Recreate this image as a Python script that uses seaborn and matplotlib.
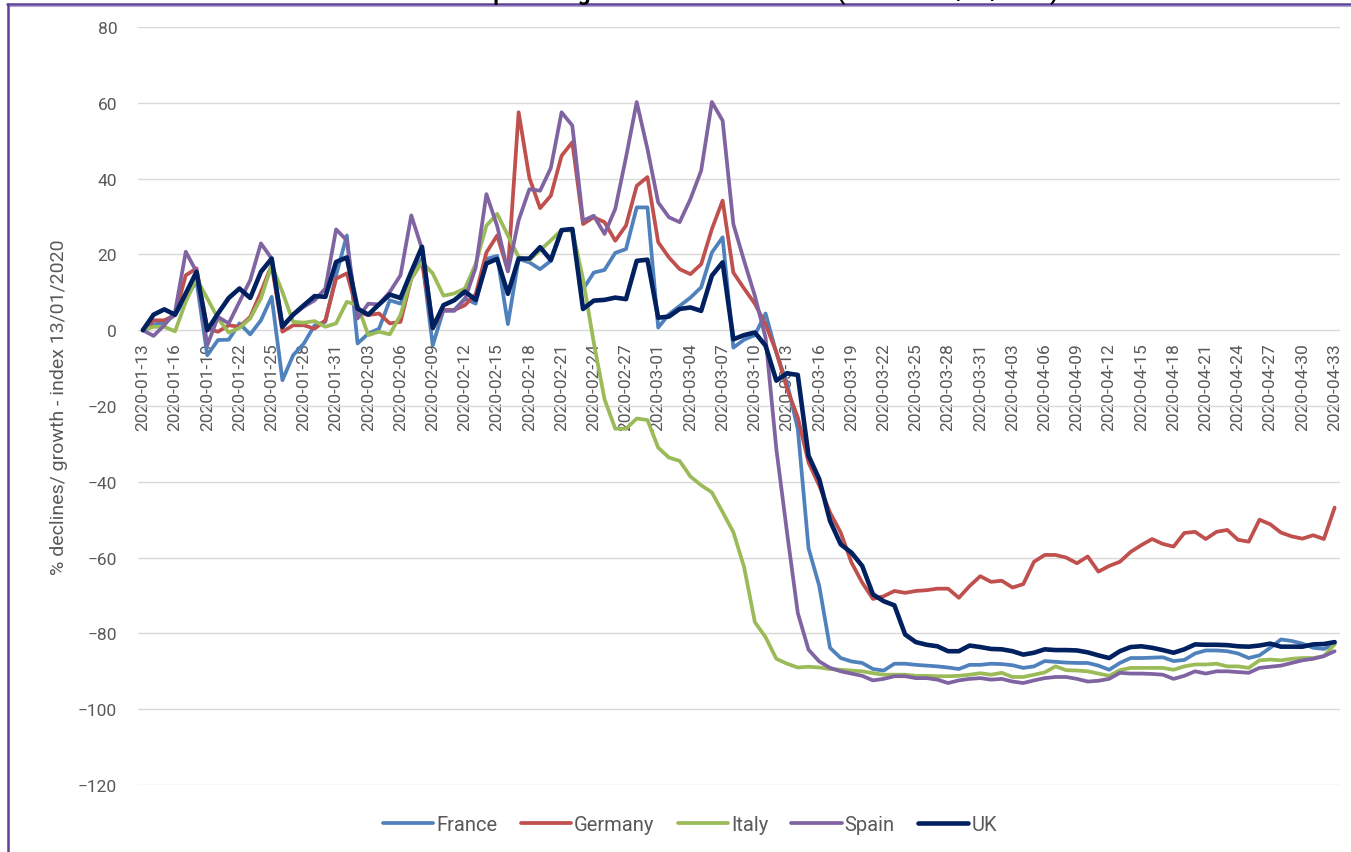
import numpy as np
import pandas as pd
import matplotlib
matplotlib.use("Agg")
import matplotlib.pyplot as plt
from matplotlib.lines import Line2D
import seaborn as sns

# daily index values from 2020-01-13, one per day (112 days)
france = [0, 1.5, 2, 4, 8.4, 13, -6.6, -2.6, -2.5, 1.8, -1.1, 2.6, 8.8, -13.2, -6.6, -3.5, 1.3, 2.2, 14.5, 25,
          -3.5, -0.9, 0.4, 7.9, 7, 14, 18.9, -4, 5.3, 5.3, 8.4, 7, 18.8, 19.6, 1.6, 18.8, 17.9, 16.1, 18.3, 26.3,
          26.7, 10.8, 15.2, 15.9, 20.4, 21.4, 32.4, 32.4, 0.7, 4.2, 6.4, 8.6, 11.3, 20.5, 24.5, -4.6, -2.5, -1.3, 4.4, -6,
          -14, -26, -57.5, -67.5, -83.8, -86.5, -87.4, -87.8, -89.4, -89.8, -88, -88, -88.3, -88.5, -88.7, -89, -89.4, -88.3, -88.3, -88,
          -88.1, -88.4, -89.1, -88.7, -87.3, -87.5, -87.7, -87.8, -87.8, -88.5, -89.6, -87.8, -86.5, -86.5, -86.4, -86.3, -87.3, -87, -85.3, -84.5,
          -84.5, -84.7, -85.3, -86.5, -85.8, -83.8, -81.6, -82, -82.7, -83.8, -84.1, -82.7]
germany = [0, 2.6, 2.6, 4, 14.5, 16.3, 0.4, -0.4, 1.3, 0.9, 3.5, 10.1, 17.2, -0.4, 1.3, 1.3, 0.4, 2.6, 13.6, 15,
           4.8, 4, 4.4, 1.8, 2.2, 13.6, 18, 0.4, 5.3, 5.3, 6.6, 9.5, 20.5, 25, 15.7, 57.5, 40.2, 32.2, 35.5, 46,
           49.6, 28, 29.8, 28.5, 23.6, 27.6, 38.1, 40.4, 23.2, 19.2, 16.1, 14.8, 17.4, 26.7, 34.2, 15.2, 11, 7, 1.5, -5.7,
           -15.4, -23, -34.9, -41, -48.1, -53.4, -61.3, -66.6, -70.9, -70.2, -68.8, -69.3, -68.8, -68.6, -68.2, -68.2, -70.6, -67.5, -64.9, -66.4,
           -66.1, -67.9, -67, -61.1, -59.3, -59.3, -60, -61.5, -59.7, -63.7, -62.2, -61.1, -58.5, -56.7, -55.1, -56.4, -57.1, -53.5, -53.2, -55.1,
           -53.2, -52.7, -55.3, -55.8, -50, -51.2, -53.4, -54.4, -55, -54.1, -55.1, -46.8]
italy = [0, 0.9, 0.9, -0.3, 7.5, 13.6, 8.4, 3.1, -0.6, 0.6, 3.1, 8.4, 17.2, 10.1, 2.2, 2, 2.4, 0.9, 1.8, 7.5,
         6.6, -1.3, -0.4, -1.1, 4, 13.6, 18, 15, 9.1, 9.7, 11, 17.5, 27.6, 30.7, 25, 19.3, 18.5, 21.1, 23.7, 26.4,
         26.3, 13.5, -3.3, -18.2, -26, -26, -23.3, -23.7, -31, -33.6, -34.5, -38.6, -40.9, -42.8, -48, -53.3, -62.5, -77, -81, -86.7,
         -88, -89, -88.8, -89, -89.4, -89.6, -89.8, -90, -90.5, -90.9, -90.9, -90.9, -91.2, -91.2, -91.3, -91.3, -91.2, -90.9, -90.5, -90.9,
         -90.4, -91.5, -91.5, -90.9, -90.3, -88.7, -89.7, -89.8, -90, -90.6, -91.2, -89.7, -89.1, -89.1, -89.1, -89.1, -89.6, -88.7, -88.2, -88.2,
         -88, -88.7, -88.7, -89.1, -87.1, -86.9, -87.1, -86.7, -86.5, -86.5, -86, -82.9]
spain = [0, -1.5, 1.3, 4.8, 20.7, 15.4, -4, 3.5, 1.8, 7.5, 13.2, 22.9, 18.9, 1.3, 4, 6.2, 7.9, 11, 26.6, 23.7,
         3.1, 7, 6.8, 10.1, 14.5, 30.3, 21.5, 1.8, 5.1, 5.1, 8.2, 16.5, 35.9, 27.5, 15.5, 29, 37.2, 36.8, 42.8, 57.5,
         54, 28.9, 30.2, 25.4, 32, 45.6, 60.2, 47.8, 33.7, 29.8, 28.5, 34.6, 42.1, 60.2, 55.3, 28, 18.3, 9.1, -2, -31.3,
         -53.4, -74.6, -84.3, -87.4, -89.1, -90, -90.6, -91.2, -92.4, -92, -91.3, -91.3, -91.8, -91.8, -92.2, -93.1, -92.4, -92, -91.8, -92.2,
         -92, -92.7, -93.1, -92.4, -91.8, -91.5, -91.5, -92, -92.7, -92.5, -92, -90.4, -90.6, -90.6, -90.7, -90.9, -92, -91.2, -90, -90.6,
         -90, -90, -90.2, -90.4, -89.1, -88.8, -88.5, -87.8, -87.1, -86.7, -86, -84.7]
uk = [0, 4.1, 5.5, 4.1, 9.7, 15.4, 0, 4.4, 8.5, 11, 8.5, 15.4, 18.9, 0.9, 4.1, 6.6, 9, 8.8, 18, 19.2,
      5.7, 4.1, 6.8, 9.4, 8.5, 15.4, 22, 0.6, 6.6, 7.9, 10.2, 8, 17.6, 18.8, 9.6, 18.9, 18.9, 21.9, 18.5, 26.4,
      26.7, 5.6, 7.8, 8, 8.6, 8.2, 18.3, 18.6, 3.3, 3.6, 5.6, 6, 5.1, 14.4, 17.9, -2.4, -1.3, -0.6, -4.1, -13.3,
      -11.4, -11.8, -33.1, -39.3, -50.3, -56.5, -58.7, -62.2, -69.7, -71.5, -72.6, -80.3, -82.3, -83, -83.4, -84.7, -84.7, -83.2, -83.6, -84.1,
      -84.2, -84.7, -85.6, -85.1, -84.2, -84.4, -84.4, -84.5, -85, -85.8, -86.5, -84.7, -83.6, -83.4, -83.8, -84.4, -85.1, -84.2, -82.9, -83,
      -83, -83.1, -83.4, -83.5, -83.2, -82.7, -83.5, -83.5, -83.5, -82.9, -82.8, -82.3]

tick_labels = ['2020-01-13', '2020-01-16', '2020-01-19', '2020-01-22', '2020-01-25', '2020-01-28', '2020-01-31',
               '2020-02-03', '2020-02-06', '2020-02-09', '2020-02-12', '2020-02-15', '2020-02-18', '2020-02-21',
               '2020-02-24', '2020-02-27', '2020-03-01', '2020-03-04', '2020-03-07', '2020-03-10', '2020-03-13',
               '2020-03-16', '2020-03-19', '2020-03-22', '2020-03-25', '2020-03-28', '2020-03-31', '2020-04-03',
               '2020-04-06', '2020-04-09', '2020-04-12', '2020-04-15', '2020-04-18', '2020-04-21', '2020-04-24',
               '2020-04-27', '2020-04-30', '2020-04-33']

countries = ['France', 'Germany', 'Italy', 'Spain', 'UK']
colors = {'France': '#4F81BD', 'Germany': '#C0504D', 'Italy': '#9BBB59', 'Spain': '#8064A2', 'UK': '#002060'}
widths = {'France': 2.7, 'Germany': 2.7, 'Italy': 2.7, 'Spain': 2.7, 'UK': 3.3}

sns.set_theme(style='white')
plt.rcParams['font.family'] = ['Roboto', 'DejaVu Sans']
grey = '#595959'

fig = plt.figure(figsize=(13.51, 8.53), dpi=100)
ax = fig.add_axes([138 / 1351, 1 - 786 / 853, 1202 / 1351, 758 / 853])

series = [france, germany, italy, spain, uk]
for name, vals in zip(countries, series):
    df = pd.DataFrame({'day': np.arange(len(vals)), 'value': vals})
    sns.lineplot(data=df, x='day', y='value', ax=ax, color=colors[name], lw=widths[name], label=name,
                 solid_joinstyle='round', solid_capstyle='round')

# category axis crosses at zero, like the original (do this first: it resets the ticks)
ax.spines['bottom'].set_position(('data', 0))
ax.spines['bottom'].set_visible(False)
for s in ['top', 'right', 'left']:
    ax.spines[s].set_visible(False)

ax.set_xlim(-0.45, 111.5)
ax.set_ylim(-120, 80)
ax.set_yticks(range(-120, 81, 20))
ax.set_xticks(np.arange(0, 112, 3))
ax.set_xticklabels(tick_labels)
ax.tick_params(axis='x', length=0, pad=8.5, labelsize=12.5, labelcolor=grey, labelrotation=90)
ax.tick_params(axis='y', length=0, pad=15, labelsize=12.5, labelcolor=grey)
ax.grid(axis='y', color='#D9D9D9', lw=1.0)
ax.set_axisbelow(True)
ax.set_xlabel('')
ax.set_ylabel('% declines/ growth - index 13/01/2020', fontsize=14, color=grey)
ax.yaxis.label.set_va('center')
ax.yaxis.set_label_coords(-0.066, 0.5)

handles, labels = ax.get_legend_handles_labels()
ax.get_legend().remove()
fig.legend(handles, labels, loc='center', bbox_to_anchor=(690 / 1351, 1 - 826 / 853), ncol=5, frameon=False,
           fontsize=14.5, labelcolor=grey, handlelength=2.5, handletextpad=0.15, columnspacing=1.15)

# title sits almost entirely above the visible area
fig.text(1058 / 1351, 1 - 0.3 / 853, 'Public Transport Usage in Five Countries 2020 (Index to 13/01/2020)',
         ha='right', va='baseline', fontsize=16, fontweight='bold', color='black')

# chart border (top and left edges visible)
fig.add_artist(Line2D([7 / 1351, 1], [1 - 4.5 / 853, 1 - 4.5 / 853], transform=fig.transFigure, color='#5E4296', lw=1.8))
fig.add_artist(Line2D([7 / 1351, 1], [1 - 6.5 / 853, 1 - 6.5 / 853], transform=fig.transFigure, color='#B3A2D6', lw=0.8))
fig.add_artist(Line2D([7.5 / 1351, 7.5 / 1351], [0, 1 - 4.5 / 853], transform=fig.transFigure, color='#5E4296', lw=1.8))

fig.savefig('out.png', dpi=100)
